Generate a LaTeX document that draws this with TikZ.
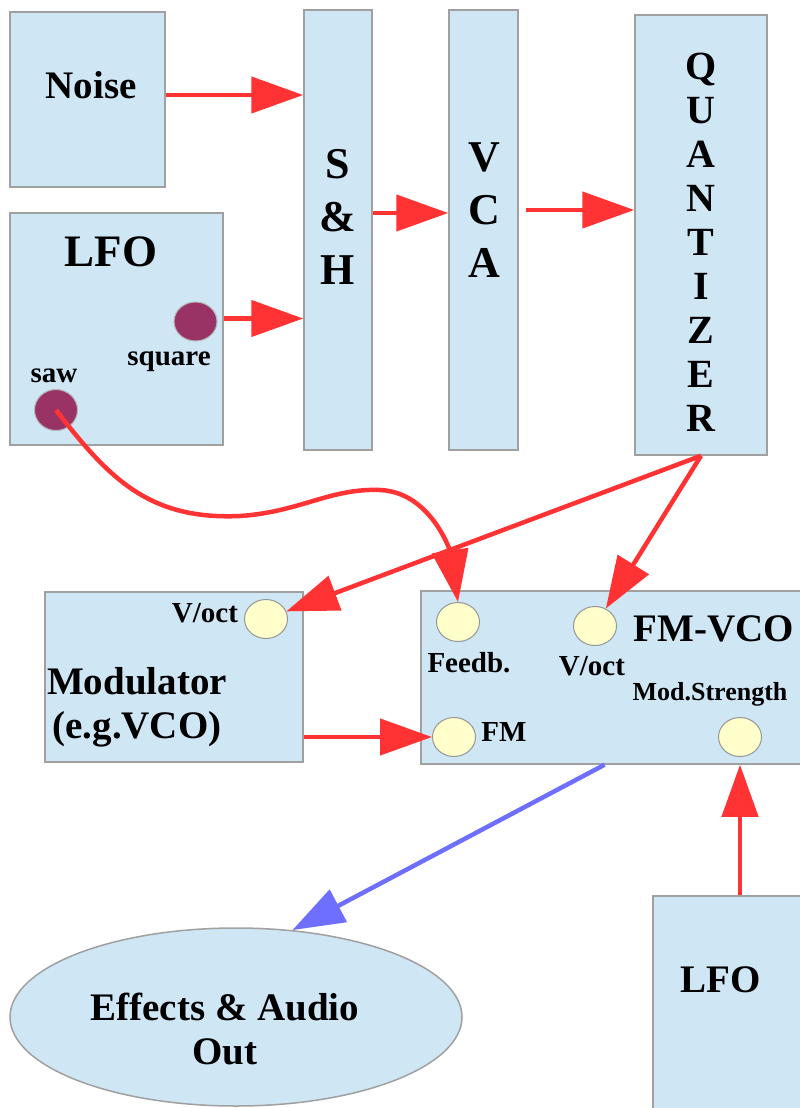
\documentclass[tikz,border=0pt]{standalone}
\usepackage{fontspec}
\setmainfont{Liberation Serif}
\usepackage{xcolor}
\usepackage{tikz}
\usetikzlibrary{arrows.meta, positioning, shapes.geometric}

\definecolor{boxblue}{RGB}{207,230,245}
\definecolor{boxedge}{RGB}{160,160,160}
\definecolor{jackfill}{RGB}{255,255,204}
\definecolor{jackedge}{RGB}{150,150,150}
\definecolor{sockpurple}{RGB}{153,51,102}
\definecolor{cablered}{RGB}{255,51,51}
\definecolor{cableblue}{RGB}{110,110,255}

\begin{document}
\begin{tikzpicture}[x=1pt, y=-1pt,
    box/.style={draw=boxedge, fill=boxblue, line width=1.5pt, inner sep=0pt},
    jack/.style={ellipse, draw=jackedge, fill=jackfill, line width=1pt, minimum width=43pt, minimum height=39pt, inner sep=0pt},
    sock/.style={jack, fill=sockpurple, draw=jackedge!70},
    bigtxt/.style={font=\fontsize{39}{44}\selectfont\bfseries, inner sep=0pt, align=center},
    lfotxt/.style={font=\fontsize{45}{48}\selectfont\bfseries, inner sep=0pt},
    talltxt/.style={font=\fontsize{44}{53}\selectfont\bfseries, inner sep=0pt, align=center},
    smalltxt/.style={font=\fontsize{29}{30}\selectfont\bfseries, inner sep=0pt},
    wire/.style={draw=cablered, line width=4.5pt, -{Triangle[length=52pt, width=36pt]}},
    outwire/.style={wire, draw=cableblue}]
    \useasboundingbox (0,0) rectangle (800,1108);

    % modules
    \node (noise) [box, minimum width=155pt, minimum height=175pt] at (87.5,99.5) {};
    \node (sh) [box, minimum width=68pt, minimum height=440pt] at (338,230) {};
    \node (vca) [box, minimum width=69pt, minimum height=440pt] at (483.5,230) {};
    \node (quant) [box, minimum width=132pt, minimum height=440pt] at (701,235) {};
    \node (lfo) [box, minimum width=213pt, minimum height=232pt] at (116.5,329) {};
    \node (modulator) [box, minimum width=258pt, minimum height=170pt] at (174,677) {};
    \node (fmvco) [box, minimum width=391pt, minimum height=173pt] at (616.5,677.5) {};
    \node (lfob) [box, minimum width=159pt, minimum height=224pt] at (732.5,1008) {};
    \node (out) [box, ellipse, minimum width=452pt, minimum height=178pt] at (236,1017) {};

    % texts
    \node (noisetxt) [bigtxt] at (91,85) {Noise};
    \node (shtxt) [talltxt] at (338,217) {S\\\&\\H};
    \node (vcatxt) [talltxt] at (484,210) {V\\C\\A};
    \node (quanttxt) [talltxt, font=\fontsize{40}{44}\selectfont\bfseries] at (701,242) {Q\\U\\A\\N\\T\\I\\Z\\E\\R};
    \node (lfotxtA) [lfotxt] at (111,252) {LFO};
    \node (squaretxt) [smalltxt] at (169,362) {square};
    \node (sawtxt) [smalltxt] at (54,376) {saw};
    \node (modvocttxt) [smalltxt] at (205,613) {V/oct};
    \node (modtxt) [bigtxt] at (137,707) {Modulator\\(e.g.VCO)};
    \node (fbtxt) [smalltxt] at (469,663) {Feedb.};
    \node (fmvocttxt) [smalltxt] at (592,666) {V/oct};
    \node (fmvcotxt) [bigtxt] at (714,629) {FM-VCO};
    \node (strtxt) [smalltxt, font=\fontsize{26}{28}\selectfont\bfseries] at (710,694) {Mod.Strength};
    \node (fmtxt) [smalltxt] at (504,732) {FM};
    \node (outtxt) [bigtxt] at (225,1029) {Effects \& Audio\\Out};
    \node (lfobtxt) [bigtxt] at (721,980) {LFO};

    % jacks
    \node (square) [sock] at (195.5,321.5) {};
    \node (saw) [sock, minimum height=41pt] at (56,410) {};
    \node (modvoct) [jack] at (266,619) {};
    \node (feedb) [jack] at (458,622) {};
    \node (fmvoct) [jack] at (595,626) {};
    \node (fm) [jack] at (454,737) {};
    \node (modstr) [jack] at (740,737) {};

    % patch cables
    \draw[wire] ([yshift=4.5pt]noise.east) -- ([yshift=4.5pt]noise.east -| sh.west);
    \draw[wire] ([yshift=3pt]square -| lfo.east) -- ([yshift=3pt]square -| sh.west);
    \draw[wire] ([yshift=17pt]sh.east) -- ([yshift=17pt]sh.east -| vca.west);
    \draw[wire] ([shift={(7pt,20pt)}]vca.east) -- ([yshift=20pt]vca.east -| quant.west);
    \draw[wire] (quant.south) -- (modvoct);
    \draw[wire] (quant.south) -- (fmvoct);
    \draw[wire] (fm -| modulator.east) -- (fm);
    \draw[wire] (saw.center) .. controls (110,480) and (150,520) .. (240,516)
        .. controls (300,512) and (330,488) .. (380,490)
        .. controls (430,492) and (450,550) .. (feedb.north);
    \draw[wire] (lfob.north -| modstr) -- (modstr |- fmvco.south);
    \draw[outwire] ([xshift=-12pt]fmvco.south) -- (out.57);
\end{tikzpicture}
\end{document}
